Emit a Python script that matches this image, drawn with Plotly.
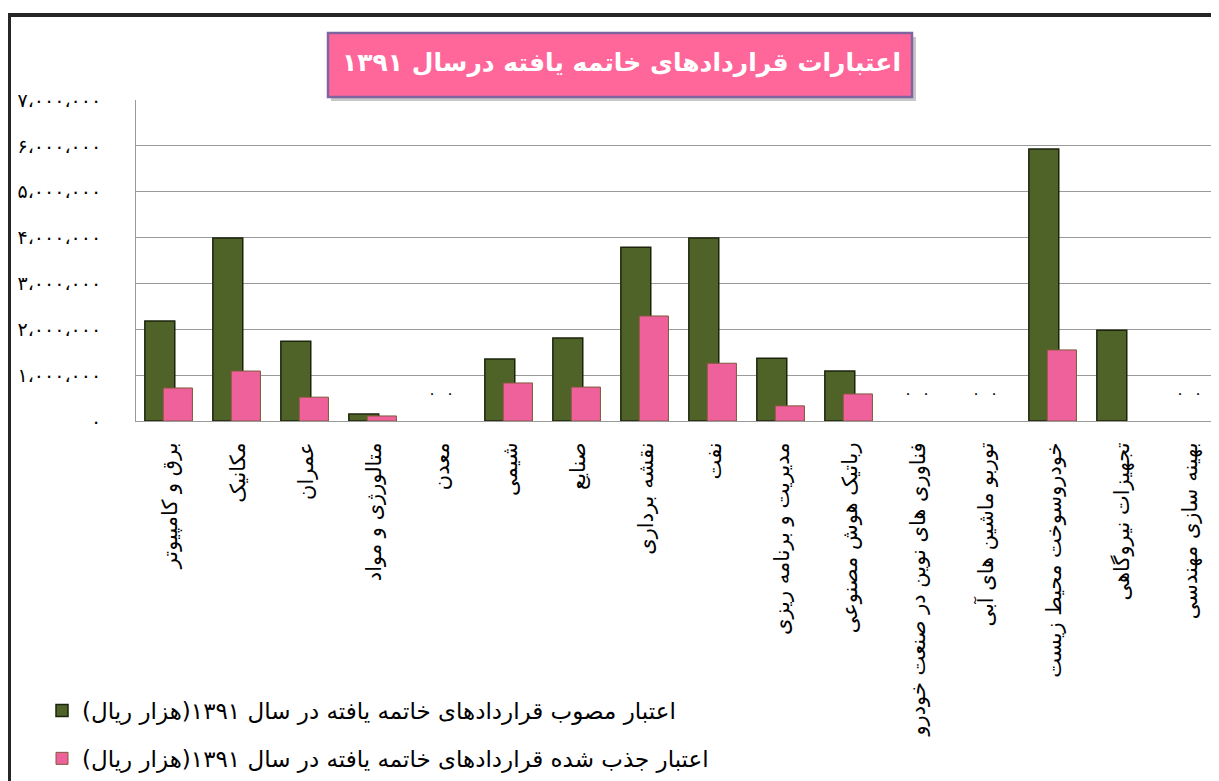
import plotly.graph_objects as go

categories = [
    "برق و کامپیوتر", "مکانیک", "عمران", "متالورژی و مواد", "معدن", "شیمی",
    "صنایع", "نقشه برداری", "نفت", "مدیریت و برنامه ریزی", "رباتیک هوش مصنوعی",
    "فناوری های نوین در صنعت خودرو", "توربو ماشین های آبی", "خودروسوخت محیط زیست",
    "تجهیزات نیروگاهی", "بهینه سازی مهندسی",
]
approved = [2180000, 3990000, 1740000, 150000, 0, 1350000, 1810000, 3790000,
            3990000, 1370000, 1090000, 0, 0, 5930000, 1980000, 0]
absorbed = [720000, 1090000, 520000, 110000, 0, 830000, 740000, 2290000,
            1260000, 330000, 590000, 0, 0, 1550000, None, 0]

series_names = [
    "\u200fاعتبار مصوب قراردادهای خاتمه یافته در سال ۱۳۹۱(هزار ریال)\u200f",
    "\u200fاعتبار جذب شده قراردادهای خاتمه یافته در سال ۱۳۹۱(هزار ریال)\u200f",
]
title_text = "اعتبارات قراردادهای خاتمه یافته درسال ۱۳۹۱"
ytick_vals = [0, 1000000, 2000000, 3000000, 4000000, 5000000, 6000000, 7000000]
ytick_text = ["۰", "۱،۰۰۰،۰۰۰", "۲،۰۰۰،۰۰۰", "۳،۰۰۰،۰۰۰", "۴،۰۰۰،۰۰۰",
              "۵،۰۰۰،۰۰۰", "۶،۰۰۰،۰۰۰", "۷،۰۰۰،۰۰۰"]

FONT = "DejaVu Sans"
PAGE_OFF = 8            # default body margin of the html page
W, H = 1219 - PAGE_OFF, 781 - PAGE_OFF
PLOT_LEFT, PLOT_TOP, PLOT_BOTTOM = 136, 100, 421   # screen pixels
L = PLOT_LEFT - PAGE_OFF
T = PLOT_TOP - PAGE_OFF
B = H - (PLOT_BOTTOM - PAGE_OFF)
PW, PH = W - L, H - T - B
CAT_PX = 68.0

green_off, green_w = -0.37, 0.44
pink_off, pink_w = -0.10, 0.43


def line_widths(vals, w):
    return [0 if (v is None or v == 0) else w for v in vals]


fig = go.Figure()
fig.add_trace(go.Bar(
    x=categories, y=approved, name=series_names[0], legendgroup="a",
    offset=green_off, width=green_w,
    marker=dict(color="#4F6228",
                line=dict(color="#1C240D", width=line_widths(approved, 1.5))),
))
fig.add_trace(go.Bar(
    x=categories, y=absorbed, name=series_names[1], legendgroup="b",
    offset=pink_off, width=pink_w,
    marker=dict(color="#EF619B",
                line=dict(color="#7E5A3A", width=line_widths(absorbed, 1))),
))


def px_x(px):
    return (px - PLOT_LEFT) / PW


def px_y(py):
    return (PLOT_BOTTOM - py) / PH


# zero-value data labels
for vals, off, w in ((approved, green_off, green_w), (absorbed, pink_off, pink_w)):
    for c, v in zip(categories, vals):
        if v == 0:
            fig.add_annotation(x=c, y=v, xref="x", yref="y", text="۰",
                               showarrow=False, xshift=(off + w / 2) * CAT_PX,
                               yshift=28, font=dict(family=FONT, size=15, color="black"))

# outer frame
fig.add_shape(type="rect", xref="paper", yref="paper",
              x0=px_x(9), x1=px_x(1300), y0=px_y(900), y1=px_y(15),
              line=dict(color="#262626", width=4), fillcolor="rgba(0,0,0,0)", layer="above")
# title box shadow + box
fig.add_shape(type="rect", xref="paper", yref="paper",
              x0=px_x(331), x1=px_x(916), y0=px_y(101), y1=px_y(37),
              line=dict(width=0), fillcolor="rgba(0,0,0,0.22)", layer="above")
fig.add_shape(type="rect", xref="paper", yref="paper",
              x0=px_x(328), x1=px_x(912), y0=px_y(97), y1=px_y(33),
              line=dict(color="#8064A2", width=2.5), fillcolor="#FF6699", layer="above")
fig.add_annotation(xref="paper", yref="paper", x=px_x(621), y=px_y(63),
                   xanchor="center", yanchor="middle",
                   text="<b>" + title_text + "</b>", showarrow=False,
                   font=dict(family=FONT, size=25, color="white"))

fig.update_layout(
    width=W, height=H,
    margin=dict(l=L, r=0, t=T, b=B, autoexpand=False),
    paper_bgcolor="white", plot_bgcolor="white",
    barmode="overlay",
    showlegend=True,
    legend=dict(x=px_x(42), y=px_y(689), xanchor="left", yanchor="top",
                font=dict(family=FONT, size=23, color="black"),
                tracegroupgap=15, bgcolor="rgba(0,0,0,0)"),
    xaxis=dict(type="category", range=[-0.5, -0.5 + PW / CAT_PX], tickangle=-90,
               showgrid=False, showline=True, linecolor="#9A9A9A", linewidth=1,
               ticks="", ticklabelstandoff=12, automargin=False,
               tickfont=dict(family=FONT, size=21, color="black")),
    yaxis=dict(range=[0, 7000000], tickvals=ytick_vals, ticktext=ytick_text,
               showgrid=True, gridcolor="#9A9A9A", gridwidth=1,
               showline=True, linecolor="#9A9A9A", linewidth=1, zeroline=False,
               ticks="", ticklabelstandoff=30, automargin=False,
               tickfont=dict(family=FONT, size=19, color="black")),
)

fig.write_html("out.html", config={"displayModeBar": False})
